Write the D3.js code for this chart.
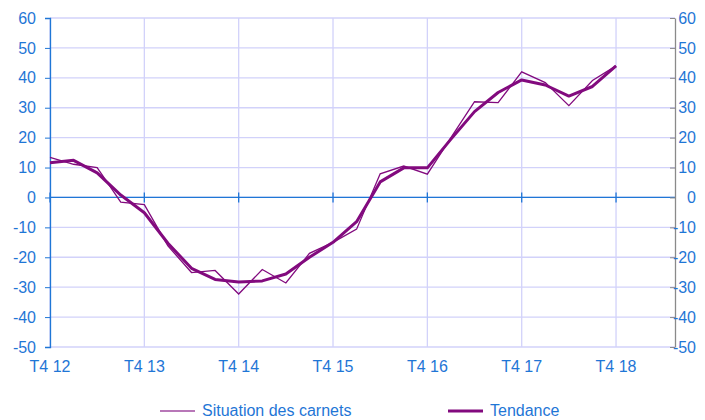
<!DOCTYPE html>
<html>
<head>
<meta charset="utf-8">
<script src="https://cdn.jsdelivr.net/npm/d3@7"></script>
<style>
  body { margin: 0; background: #fff; }
  text { font-family: "Liberation Sans", Arial, sans-serif; }
</style>
</head>
<body>
<svg id="chart" width="705" height="420"></svg>
<script>
// quarterly values, T4 12 .. T4 18
const carnets = [13.4, 11.1, 10.0, -1.6, -2.4, -16.2, -25.1, -24.4, -32.3, -24.1, -28.6, -18.7, -15.0,
                 -10.6, 7.9, 10.5, 7.8, 20.0, 32.0, 31.7, 42.0, 38.4, 30.7, 39.1, 44.0];
const tendance = [11.6, 12.4, 8.2, 0.8, -5.1, -15.3, -23.7, -27.4, -28.3, -27.9, -25.6, -20.0, -15.0,
                  -8.1, 5.2, 9.9, 9.9, 19.5, 28.7, 35.1, 39.3, 37.6, 33.9, 37.1, 44.0];
const tickLabels = ["T4 12", "T4 13", "T4 14", "T4 15", "T4 16", "T4 17", "T4 18"];
const yTicks = [60, 50, 40, 30, 20, 10, 0, -10, -20, -30, -40, -50];

const blue = "#1f76d6";
const purple = "#820a7e";
const grid = "#d2d2fa";

let margin = {left: 50, right: 30, top: 18, bottom: 73};
let width = 705 - margin.left - margin.right;
let height = 420 - margin.top - margin.bottom;

let svg = d3.select("#chart")
    .append("g")
    .attr("transform", "translate(" + margin.left + "," + margin.top + ")");

let x = d3.scaleLinear().domain([0, 26.5]).range([0, width]);
let y = d3.scaleLinear().domain([-50, 60]).range([height, 0]);

// horizontal grid
svg.append("g")
    .selectAll("line")
    .data(yTicks)
    .enter()
    .append("line")
    .attr("x1", 0).attr("x2", width)
    .attr("y1", d => y(d)).attr("y2", d => y(d))
    .attr("stroke", grid).attr("stroke-width", 1.3);

// vertical grid at each T4
svg.append("g")
    .selectAll("line")
    .data(tickLabels)
    .enter()
    .append("line")
    .attr("x1", (d, i) => x(i * 4)).attr("x2", (d, i) => x(i * 4))
    .attr("y1", 0).attr("y2", height)
    .attr("stroke", grid).attr("stroke-width", 1.3);

// zero line with ticks
svg.append("line")
    .attr("x1", 0).attr("x2", width)
    .attr("y1", y(0)).attr("y2", y(0))
    .attr("stroke", blue).attr("stroke-width", 1.3);
svg.append("g")
    .selectAll("line")
    .data(tickLabels)
    .enter()
    .append("line")
    .attr("x1", (d, i) => x(i * 4)).attr("x2", (d, i) => x(i * 4))
    .attr("y1", y(0) - 5).attr("y2", y(0) + 5)
    .attr("stroke", blue).attr("stroke-width", 1.3);

let fmt = d => String(d);

// left axis
let left = svg.append("g")
    .call(d3.axisLeft(y).tickValues(yTicks).tickFormat(fmt).tickSize(5).tickPadding(9));
left.select(".domain").attr("stroke", blue).attr("stroke-width", 1.3);
left.selectAll(".tick line").attr("stroke", blue);
left.selectAll("text").attr("fill", blue).style("font-size", "16px");

// right axis (ticks inside)
let right = svg.append("g")
    .attr("transform", "translate(" + width + ",0)")
    .call(d3.axisLeft(y).tickValues(yTicks).tickFormat(fmt).tickSize(5).tickSizeOuter(0).tickPadding(-26));
right.select(".domain").attr("stroke", "#8a8a8a").attr("stroke-width", 1.3);
right.selectAll(".tick line").attr("stroke", "#8a8a8a");
right.selectAll("text").attr("fill", blue).style("font-size", "16px");

// x labels
svg.append("g")
    .selectAll("text")
    .data(tickLabels)
    .enter()
    .append("text")
    .attr("x", (d, i) => x(i * 4))
    .attr("y", height + 25)
    .attr("text-anchor", "middle")
    .attr("fill", blue)
    .style("font-size", "16px")
    .text(d => d);

let line = d3.line()
    .x((d, i) => x(i))
    .y(d => y(d));

svg.append("path")
    .datum(carnets)
    .attr("d", line)
    .attr("fill", "none")
    .attr("stroke", purple)
    .attr("stroke-width", 1.3);

svg.append("path")
    .datum(tendance)
    .attr("d", line)
    .attr("fill", "none")
    .attr("stroke", purple)
    .attr("stroke-width", 3)
    .attr("stroke-linejoin", "round");

// legend
let legend = d3.select("#chart").append("g");
let items = [
    {name: "Situation des carnets", w: 1.5, color: "#a04aa0", x: 160},
    {name: "Tendance", w: 3, color: purple, x: 448}
];
items.forEach(d => {
    legend.append("line")
        .attr("x1", d.x).attr("x2", d.x + 35)
        .attr("y1", 411).attr("y2", 411)
        .attr("stroke", d.color).attr("stroke-width", d.w);
    legend.append("text")
        .attr("x", d.x + 42).attr("y", 416)
        .attr("fill", blue)
        .style("font-size", "16px")
        .text(d.name);
});
</script>
</body>
</html>
